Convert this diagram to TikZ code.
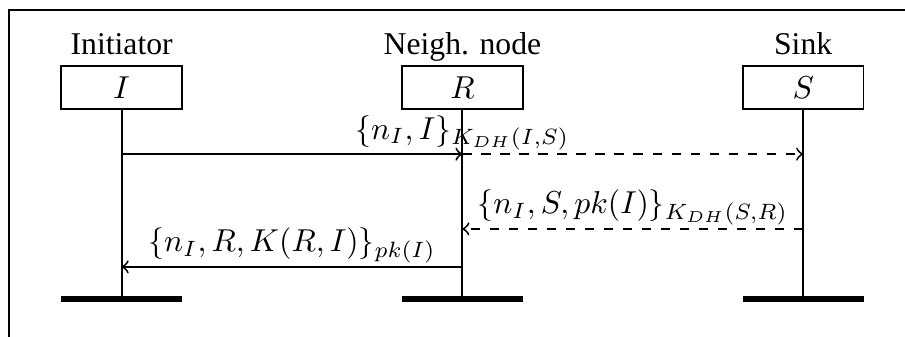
\documentclass[tikz,border=0pt]{standalone}
\usepackage[no-math]{fontspec}
\setmainfont{Liberation Serif}
\usetikzlibrary{positioning}

\begin{document}
\begin{tikzpicture}[
  inst/.style={draw,line width=0.6pt,minimum width=1.34cm,minimum height=0.47cm,inner sep=0pt},
  life/.style={line width=0.6pt},
  endbar/.style={line width=2pt},
  msg/.style={line width=0.6pt,->},
  lbl/.style={above,inner sep=1pt}]
\clip (0,0) rectangle (10.04,-3.73);
\draw[line width=0.6pt] (0.10,-0.11) rectangle (10.6,-4.3);
% instance heads
\node[inst] (I) at (1.35,-0.97) {$I$};
\node[inst] (R) at (5.13,-0.97) {$R$};
\node[inst] (S) at (8.91,-0.97) {$S$};
\node[anchor=base] (nameI) at (1.35,-0.61) {Initiator};
\node[anchor=base] (nameR) at (5.13,-0.61) {Neigh. node};
\node[anchor=base] (nameS) at (8.91,-0.61) {Sink};
% lifelines
\coordinate (Iend) at (1.35,-3.32);
\coordinate (Rend) at (5.13,-3.32);
\coordinate (Send) at (8.91,-3.32);
\draw[life] (I.south) -- (Iend);
\draw[life] (R.south) -- (Rend);
\draw[life] (S.south) -- (Send);
\draw[endbar] ([xshift=-0.67cm]Iend) -- ([xshift=0.67cm]Iend);
\draw[endbar] ([xshift=-0.67cm]Rend) -- ([xshift=0.67cm]Rend);
\draw[endbar] ([xshift=-0.67cm]Send) -- ([xshift=0.67cm]Send);
% messages
\coordinate (I1) at (1.35,-1.71);
\coordinate (R1) at (5.13,-1.71);
\coordinate (S1) at (8.91,-1.71);
\coordinate (R2) at (5.13,-2.54);
\coordinate (S2) at (8.91,-2.54);
\coordinate (I3) at (1.35,-2.96);
\coordinate (R3) at (5.13,-2.96);
\draw[msg] (I1) -- (R1);
\draw[msg,dashed] (R1) -- (S1);
\path (I1) -- node[lbl] (m1) {$\{n_I,I\}_{K_{DH}(I,S)}$} (S1);
\draw[msg,dashed] (S2) -- node[lbl] (m2) {$\{n_I,S,pk(I)\}_{K_{DH}(S,R)}$} (R2);
\draw[msg] (R3) -- node[lbl] (m3) {$\{n_I,R,K(R,I)\}_{pk(I)}$} (I3);
\end{tikzpicture}
\end{document}
